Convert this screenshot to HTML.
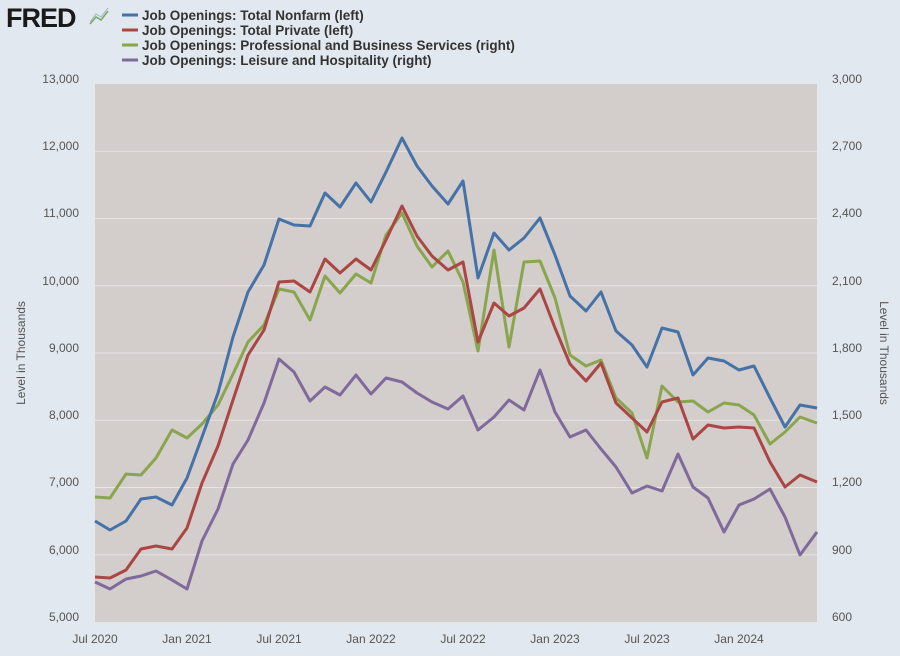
<!DOCTYPE html>
<html><head><meta charset="utf-8"><style>
body{margin:0;width:900px;height:651px;background:#e1e8ef;overflow:hidden;font-family:"Liberation Sans",sans-serif}
</style></head><body>
<svg width="900" height="651" xmlns="http://www.w3.org/2000/svg" font-family="Liberation Sans, sans-serif">
<rect width="900" height="651" fill="#e1e8ef"/>
<text x="6" y="27" font-size="27" font-weight="bold" fill="#1a1a1a" letter-spacing="-1">FRED</text>
<polyline points="90,24 96,17 101,20 108,11" fill="none" stroke="#7aa860" stroke-width="1.5"/>
<polyline points="90,22 96,14 101,17 108,8" fill="none" stroke="#9ab6cc" stroke-width="1"/>
<g font-size="13.5" font-weight="bold" fill="#333">
<line x1="122" y1="15" x2="138" y2="15" stroke="#4572a7" stroke-width="3"/><text x="142" y="20">Job Openings: Total Nonfarm (left)</text>
<line x1="122" y1="30" x2="138" y2="30" stroke="#aa4643" stroke-width="3"/><text x="142" y="35">Job Openings: Total Private (left)</text>
<line x1="122" y1="45" x2="138" y2="45" stroke="#89a54e" stroke-width="3"/><text x="142" y="50">Job Openings: Professional and Business Services (right)</text>
<line x1="122" y1="60" x2="138" y2="60" stroke="#80699b" stroke-width="3"/><text x="142" y="65">Job Openings: Leisure and Hospitality (right)</text>
</g>
<rect x="95" y="84" width="722" height="538" fill="#d3cdcc"/>
<g stroke="#e8e4e3" stroke-width="1">
<line x1="95" x2="817" y1="151.25" y2="151.25"/><line x1="95" x2="817" y1="218.5" y2="218.5"/><line x1="95" x2="817" y1="285.75" y2="285.75"/><line x1="95" x2="817" y1="353" y2="353"/><line x1="95" x2="817" y1="420.25" y2="420.25"/><line x1="95" x2="817" y1="487.5" y2="487.5"/><line x1="95" x2="817" y1="554.75" y2="554.75"/>
</g>
<g font-size="12" fill="#555" text-anchor="end">
<text x="79" y="83">13,000</text><text x="79" y="150">12,000</text><text x="79" y="217">11,000</text><text x="79" y="285">10,000</text><text x="79" y="352">9,000</text><text x="79" y="419">8,000</text><text x="79" y="486">7,000</text><text x="79" y="554">6,000</text><text x="79" y="621">5,000</text>
</g>
<g font-size="12" fill="#555">
<text x="832" y="83">3,000</text><text x="832" y="150">2,700</text><text x="832" y="217">2,400</text><text x="832" y="285">2,100</text><text x="832" y="352">1,800</text><text x="832" y="419">1,500</text><text x="832" y="486">1,200</text><text x="832" y="554">900</text><text x="832" y="621">600</text>
</g>
<g font-size="12" fill="#555" text-anchor="middle">
<text x="95" y="643">Jul 2020</text><text x="187" y="643">Jan 2021</text><text x="279" y="643">Jul 2021</text><text x="371" y="643">Jan 2022</text><text x="463" y="643">Jul 2022</text><text x="555" y="643">Jan 2023</text><text x="647" y="643">Jul 2023</text><text x="739" y="643">Jan 2024</text>
</g>
<text transform="translate(25,353) rotate(-90)" font-size="12" fill="#555" text-anchor="middle">Level in Thousands</text>
<text transform="translate(880,353) rotate(90)" font-size="12" fill="#555" text-anchor="middle">Level in Thousands</text>
<g fill="none" stroke-width="3" stroke-linejoin="round">
<polyline stroke="#80699b" points="95,582 110,589 126,579 141,576 156,571 172,580 187,589 202,541 218,509 233,464 248,440 264,403 279,359 294,372 310,401 325,387 340,395 356,375 371,394 386,378 402,382 417,393 432,402 448,409 463,396 478,430 494,417 509,400 524,410 540,370 555,412 570,437 586,430 601,449 616,467 632,493 647,486 662,491 678,454 693,487 708,498 724,532 739,505 754,499 770,489 785,517 800,555 817,532"/>
<polyline stroke="#89a54e" points="95,497 110,498 126,474 141,475 156,458 172,430 187,438 202,424 218,405 233,374 248,342 264,325 279,289 294,292 310,320 325,276 340,293 356,274 371,283 386,235 402,213 417,246 432,267 448,251 463,282 478,351 494,250 509,347 524,262 540,261 555,298 570,355 586,366 601,360 616,398 632,413 647,458 662,386 678,402 693,401 708,412 724,403 739,405 754,415 770,444 785,432 800,417 817,423"/>
<polyline stroke="#aa4643" points="95,577 110,578 126,570 141,549 156,546 172,549 187,528 202,483 218,446 233,400 248,355 264,330 279,282 294,281 310,292 325,259 340,273 356,259 371,270 386,240 402,206 417,236 432,256 448,270 463,262 478,342 494,303 509,316 524,308 540,289 555,328 570,364 586,381 601,363 616,403 632,418 647,432 662,402 678,398 693,439 708,425 724,428 739,427 754,428 770,462 785,487 800,475 817,482"/>
<polyline stroke="#4572a7" points="95,521 110,530 126,521 141,499 156,497 172,505 187,478 202,437 218,393 233,337 248,292 264,265 279,219 294,225 310,226 325,193 340,207 356,183 371,202 386,172 402,138 417,166 432,186 448,204 463,181 478,278 494,233 509,250 524,238 540,218 555,255 570,296 586,311 601,292 616,331 632,345 647,367 662,328 678,332 693,375 708,358 724,361 739,370 754,366 770,398 785,427 800,405 817,408"/>
</g>
</svg>
</body></html>
